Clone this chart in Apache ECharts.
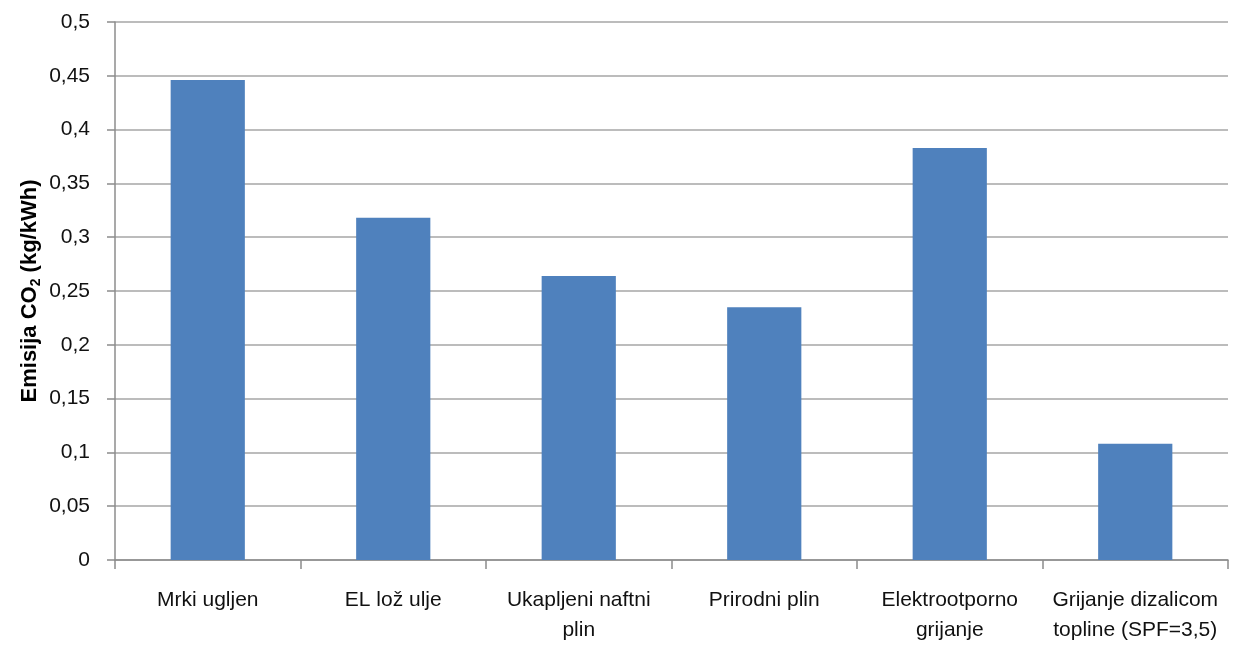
<!DOCTYPE html>
<html><head><meta charset="utf-8">
<script src="https://cdn.jsdelivr.net/npm/echarts@6/dist/echarts.min.js"></script>
<style>html,body{margin:0;padding:0;background:#fff}#c{width:1233px;height:653px}</style>
</head><body><div id="c"></div>
<script>
const categories = ["Mrki ugljen", "EL lož ulje", "Ukapljeni naftni\nplin", "Prirodni plin", "Elektrootporno\ngrijanje", "Grijanje dizalicom\ntopline (SPF=3,5)"];
const emissions = [0.446, 0.318, 0.264, 0.235, 0.383, 0.108];
const FONT = "'Liberation Sans Narrow', 'Liberation Sans', Arial, sans-serif";
const chart = echarts.init(document.getElementById('c'));
chart.setOption({
  animation: false,
  backgroundColor: '#fff',
  grid: {left: 115, right: 5, top: 22, bottom: 93, outerBoundsMode: 'none'},
  xAxis: {
    type: 'category', data: categories,
    axisLine: {lineStyle: {color: '#8c8c8c', width: 1.5}},
    axisTick: {show: true, length: 9, lineStyle: {color: '#8c8c8c', width: 1.5}},
    axisLabel: {color: '#111', fontFamily: FONT, fontSize: 21, margin: 25, lineHeight: 30, interval: 0}
  },
  yAxis: {
    type: 'value', min: 0, max: 0.5, interval: 0.05,
    name: '{a|Emisija CO}{s|2}{a| (kg/kWh)}',
    nameLocation: 'middle', nameGap: 72, nameRotate: 90, nameMoveOverlap: false,
    nameTextStyle: {rich: {
      a: {fontFamily: "'Liberation Sans', Arial, sans-serif", fontWeight: 'bold', fontSize: 22, color: '#000'},
      s: {fontFamily: "'Liberation Sans', Arial, sans-serif", fontWeight: 'bold', fontSize: 14, color: '#000', padding: [12, 0, 0, 0]}
    }},
    axisLine: {show: true, lineStyle: {color: '#8c8c8c', width: 1.5}},
    axisTick: {show: true, length: 8, lineStyle: {color: '#8c8c8c', width: 1.5}},
    axisLabel: {color: '#111', fontFamily: FONT, fontSize: 21, margin: 25,
      formatter: v => String(+v.toFixed(2)).replace('.', ',')},
    splitLine: {lineStyle: {color: '#a6a6a6', width: 1.5}}
  },
  series: [{
    type: 'bar', data: emissions, barWidth: '40%',
    itemStyle: {color: '#4F81BD'}
  }]
});
</script></body></html>
